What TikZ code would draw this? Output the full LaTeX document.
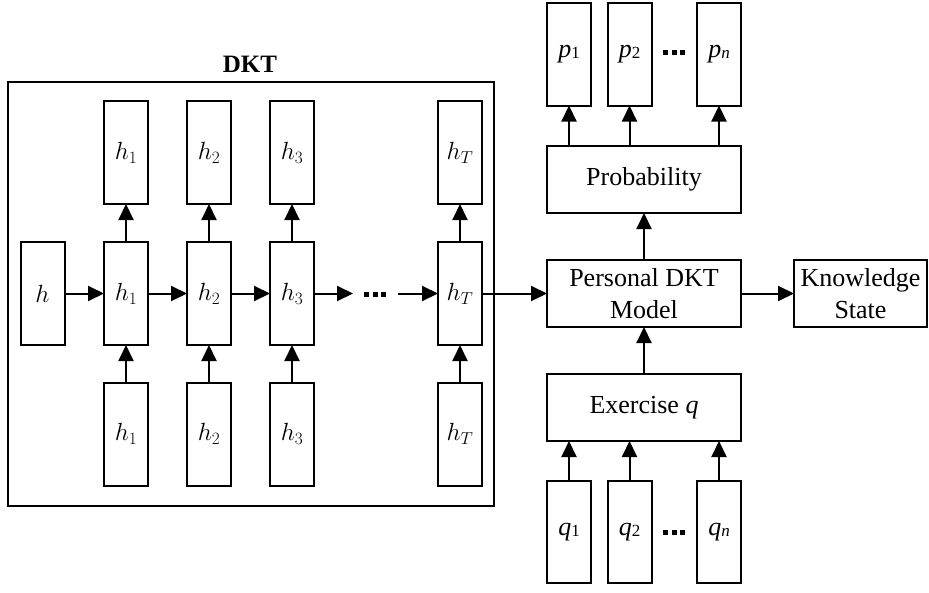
\documentclass[tikz,border=0pt]{standalone}
\usepackage{fontspec}
\setmainfont{Liberation Serif}
\usetikzlibrary{arrows.meta}
% italic letter with a small, slightly lowered index
\newcommand{\tsub}[2]{{\itshape #1}{\fontsize{17}{17}\selectfont\raisebox{-0.15ex}{#2}}}
% three heavy dots, centred on the line
\newcommand{\heavydots}{\rule{5pt}{5pt}\hspace{3.5pt}\rule{5pt}{5pt}\hspace{3.5pt}\rule{5pt}{5pt}}
\begin{document}
\begin{tikzpicture}[x=1pt,y=-1pt,
  line width=2pt,
  every node/.style={inner sep=0pt, outer sep=0pt},
  cell/.style={draw, minimum width=44pt, minimum height=103pt, font=\fontsize{24}{26}\selectfont},
  pcell/.style={draw, minimum width=44pt, minimum height=103pt, font=\fontsize{26}{30}\selectfont},
  wide/.style={draw, minimum width=194pt, minimum height=67pt, align=center, font=\fontsize{26}{32}\selectfont},
  arr/.style={-{Triangle[length=16pt,width=15pt]}},
  dotsnode/.style={}
]
\useasboundingbox (0,0) rectangle (929,592);

% DKT frame and title
\node[draw, minimum width=486pt, minimum height=424pt] (frame) at (251,294) {};
\node[font=\fontsize{25}{28}\selectfont\bfseries] (title) at (250,64) {DKT};

% initial state
\node[cell] (h0) at (42.5,293.5) {$h$};

% hidden states (middle row)
\node[cell] (m1) at (126,293.5) {$h_1$};
\node[cell] (m2) at (209,293.5) {$h_2$};
\node[cell] (m3) at (292,293.5) {$h_3$};
\node[cell] (mT) at (460,293.5) {$h_T$};

% outputs (top row)
\node[cell] (t1) at (126,152.5) {$h_1$};
\node[cell] (t2) at (209,152.5) {$h_2$};
\node[cell] (t3) at (292,152.5) {$h_3$};
\node[cell] (tT) at (460,152.5) {$h_T$};

% inputs (bottom row)
\node[cell] (b1) at (126,434) {$h_1$};
\node[cell] (b2) at (209,434) {$h_2$};
\node[cell] (b3) at (292,434) {$h_3$};
\node[cell] (bT) at (460,434) {$h_T$};

\node[dotsnode] (mdots) at (375,294) {\heavydots};
\coordinate (dl) at (353,293.5);
\coordinate (dr) at (398,293.5);

% recurrence
\draw[arr] (h0) -- (m1);
\draw[arr] (m1) -- (m2);
\draw[arr] (m2) -- (m3);
\draw[arr] (m3.east) -- (dl);
\draw[arr] (dr) -- (mT.west);

\foreach \i in {1,2,3,T} {
  \draw[arr] (m\i) -- (t\i);
  \draw[arr] (b\i) -- (m\i);
}

% right-hand pipeline
\node[pcell] (p1) at (569,54) {\tsub{p}{1}};
\node[pcell] (p2) at (629.5,54) {\tsub{p}{2}};
\node[pcell] (pn) at (719,54) {\tsub{p}{\itshape n}};
\node[dotsnode] (pdots) at (674,52) {\heavydots};

\node[wide] (prob) at (644,179.5) {Probability};
\node[wide] (pers) at (644,293.5) {Personal DKT\\Model};
\node[draw, minimum width=133pt, minimum height=67pt, align=center,
      font=\fontsize{26}{32}\selectfont] (know) at (860.5,293.5) {Knowledge\\State};
\node[wide] (ex) at (644,407.5) {Exercise \textit{q}};

\node[pcell, minimum height=102pt] (q1) at (569,532) {\tsub{q}{1}};
\node[pcell, minimum height=102pt] (q2) at (629.5,532) {\tsub{q}{2}};
\node[pcell, minimum height=102pt] (qn) at (719,532) {\tsub{q}{\itshape n}};
\node[dotsnode] (qdots) at (674,532) {\heavydots};

\draw[arr] (mT.east) -- (pers.west);
\draw[arr] (pers) -- (know);
\draw[arr] (pers) -- (prob);
\draw[arr] (ex) -- (pers);
\foreach \k in {1,2,n} {
  \draw[arr] (prob.north -| p\k) -- (p\k.south);
  \draw[arr] (q\k.north) -- (ex.south -| q\k);
}
\end{tikzpicture}
\end{document}
